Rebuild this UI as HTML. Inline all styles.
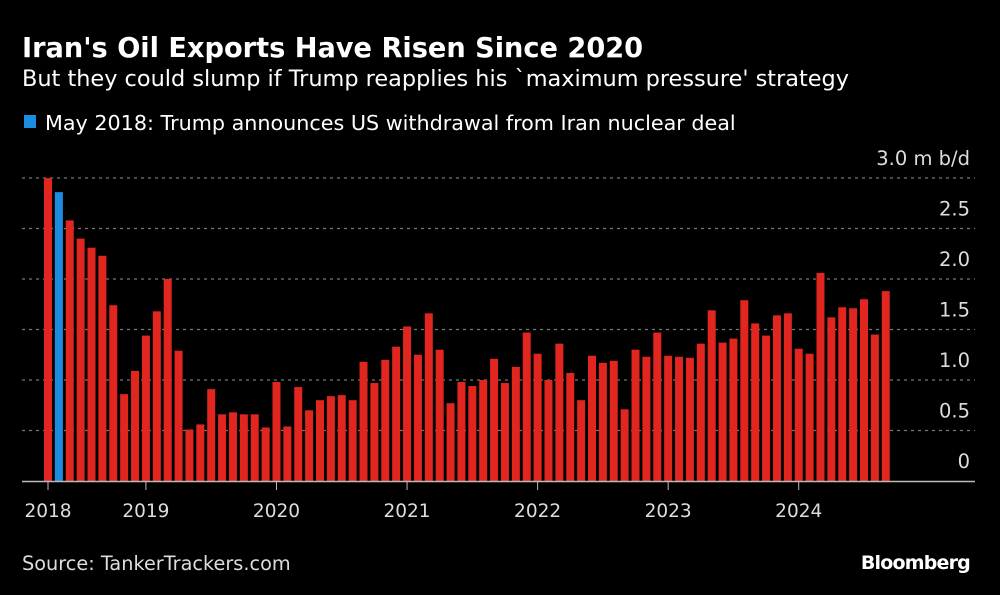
<!DOCTYPE html>
<html><head><meta charset="utf-8"><style>
html,body{margin:0;padding:0;background:#000;}
svg{display:block;}
text{font-family:"DejaVu Sans","Liberation Sans",sans-serif;}
</style></head><body>
<svg id="chart" width="1000" height="595" viewBox="0 0 1000 595" xmlns="http://www.w3.org/2000/svg">
<rect width="1000" height="595" fill="#000"/>
<text x="22" y="57" fill="#fff" font-size="27.2" font-weight="bold">Iran's Oil Exports Have Risen Since 2020</text>
<text x="22" y="86" fill="#fff" font-size="22.4">But they could slump if Trump reapplies his `maximum pressure' strategy</text>
<g>
<rect x="24" y="115" width="12" height="13" fill="#1a8de0"/>
<text x="45" y="130" fill="#fff" font-size="20.7">May 2018: Trump announces US withdrawal from Iran nuclear deal</text>
</g>
<g id="grid"></g>
<g id="bars"></g>
<g id="xaxis"></g>
<text x="22" y="570" fill="#ddd" font-size="19.3">Source: TankerTrackers.com</text>
<text x="970" y="569" fill="#fff" font-size="19" font-weight="bold" text-anchor="end" letter-spacing="-0.8">Bloomberg</text>
</svg>
<script>
const values = [3.0,2.86,2.58,2.40,2.31,2.23,1.74,0.86,1.09,1.44,1.68,2.00,1.29,0.51,0.56,0.91,0.66,0.68,0.66,0.66,0.53,0.98,0.54,0.93,0.70,0.80,0.84,0.85,0.80,1.18,0.97,1.20,1.33,1.53,1.25,1.66,1.30,0.77,0.98,0.94,1.00,1.21,0.97,1.13,1.47,1.26,1.00,1.36,1.07,0.80,1.24,1.17,1.19,0.71,1.30,1.23,1.47,1.24,1.23,1.22,1.36,1.69,1.37,1.41,1.79,1.56,1.44,1.64,1.66,1.31,1.26,2.06,1.62,1.72,1.71,1.80,1.45,1.88];
const highlightIndex = [1];
const yTicks = [0,0.5,1.0,1.5,2.0,2.5,3.0];
const yTickLabels = ["0","0.5","1.0","1.5","2.0","2.5","3.0 m b/d"];
const xTickIndex = [0,9,21,33,45,57,69];
const xTickLabels = ["2018","2019","2020","2021","2022","2023","2024"];

const NS="http://www.w3.org/2000/svg";
const y0=481, pxPerUnit=101, x0=48, pitch=10.88, barW=8;
const yScale=v=>y0-v*pxPerUnit;
const xScale=i=>x0+i*pitch;
function mk(tag,attrs,parent){const e=document.createElementNS(NS,tag);for(const k in attrs)e.setAttribute(k,attrs[k]);parent.appendChild(e);return e;}
const grid=document.getElementById('grid'),bars=document.getElementById('bars'),xa=document.getElementById('xaxis');
yTicks.forEach((t,k)=>{
  const y=yScale(t);
  if(t>0){const l=mk('line',{x1:22,x2:975,y1:y,y2:y,stroke:'#777','stroke-width':1.3,'stroke-dasharray':'3,4'},grid);
  
  }
  const tx=mk('text',{x:970,y:y-13,fill:'#ddd','font-size':19.5,'text-anchor':'end'},grid);
  tx.textContent=yTickLabels[k];
  
  
});
values.forEach((v,i)=>{
  const r=mk('rect',{x:xScale(i)-barW/2,y:yScale(v),width:barW,height:v*pxPerUnit,fill:highlightIndex.includes(i)?'#1a8de0':'#e0261f'},bars);
  
  
});
const base=mk('line',{x1:22,x2:975,y1:y0+0.5,y2:y0+0.5,stroke:'#bbb','stroke-width':1.5},xa);


xTickIndex.forEach((idx,k)=>{
  const x=xScale(idx);
  const t=mk('line',{x1:x,x2:x,y1:y0,y2:y0+9,stroke:'#bbb','stroke-width':1},xa);
  
  
  const tx=mk('text',{x:x,y:517,fill:'#ddd','font-size':18.5,'text-anchor':'middle'},xa);
  tx.textContent=xTickLabels[k];
  
  
});
</script>
</body></html>
